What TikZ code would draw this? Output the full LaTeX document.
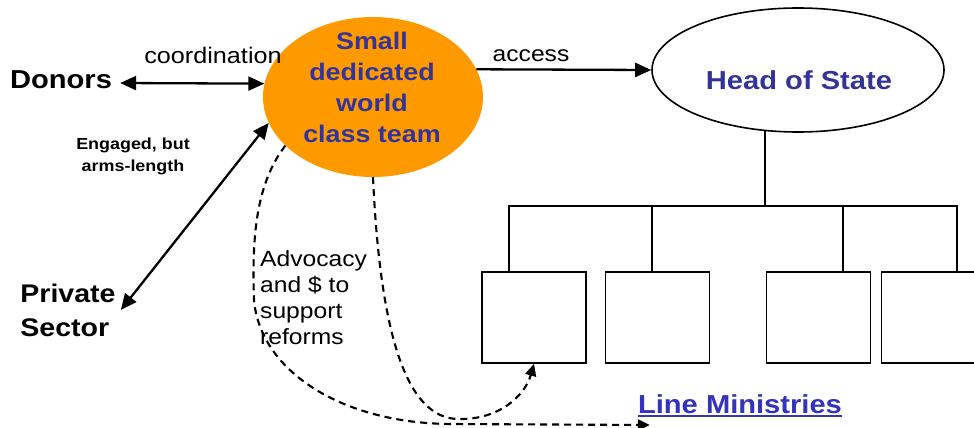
\documentclass[tikz,border=0pt]{standalone}
\usepackage{fontspec}
\setmainfont{Liberation Sans}[FakeStretch=1.12]
\usetikzlibrary{shapes.geometric,arrows.meta}
\definecolor{teamorange}{HTML}{FF9900}
\definecolor{navytext}{HTML}{333399}
\definecolor{linkblue}{HTML}{3333BB}
\newcommand\ulinetext[1]{\setbox0\hbox{#1}\rlap{\rule[-3.5pt]{\wd0}{2pt}}\box0}
\begin{document}
\begin{tikzpicture}[x=1pt,y=-1pt,
  >={Triangle[length=16pt,width=14pt]},
  solidarrow/.style={line width=2.3pt},
  dasharrow/.style={line width=2.1pt, dash pattern=on 7pt off 5pt, -{Triangle[length=12pt,width=11pt]}},
  treeline/.style={line width=1.7pt},
  ministry/.style={draw, line width=1.7pt, minimum width=104pt, minimum height=91pt, inner sep=0pt},
  lbl/.style={inner sep=2pt}]
\useasboundingbox (0,0) rectangle (974,428);

% main ellipses
\node[ellipse, fill=teamorange, minimum width=220pt, minimum height=160pt, inner sep=0pt] (team) at (373,97) {};
\node[lbl, align=center, text=navytext, font=\fontsize{24}{31}\selectfont\bfseries] (teamtxt) at (372,87) {Small\\dedicated\\world\\class team};
\node[ellipse, draw, line width=1.6pt, minimum width=292pt, minimum height=124pt, inner sep=0pt] (hos) at (798,70) {};
\node[lbl, text=navytext, font=\fontsize{26}{30}\selectfont\bfseries] (hostxt) at (799,80.5) {Head of State};

% side labels
\node[lbl, font=\fontsize{26}{30}\selectfont\bfseries] (donors) at (61,80) {Donors};
\node[lbl, align=left, font=\fontsize{25.5}{34}\selectfont\bfseries] (private) at (68,310) {Private\\Sector};
\node[lbl, font=\fontsize{22.5}{26}\selectfont] (coord) at (213,55.5) {coordination};
\node[lbl, font=\fontsize{22}{26}\selectfont] (access) at (531,55.5) {access};
\node[lbl, align=center, font=\fontsize{16}{22}\selectfont\bfseries] (engaged) at (133,156) {Engaged, but\\arms-length};
\node[lbl, align=left, anchor=west, font=\fontsize{22}{26}\selectfont] (advocacy) at (258,298) {Advocacy\\and \$ to\\support\\reforms};

% ministries
\node[ministry] (m1) at (534,317.5) {};
\node[ministry] (m2) at (657.5,317.5) {};
\node[ministry] (m3) at (818.5,317.5) {};
\node[ministry] (m4) at (933.5,317.5) {};
\node[lbl, anchor=base, text=linkblue, font=\fontsize{26}{30}\selectfont\bfseries] (lm) at (740,413) {\ulinetext{Line Ministries}};

% tree
\coordinate (trunk) at (765,206);
\coordinate (barL) at (509,206);
\coordinate (barR) at (957,206);
\coordinate (drop2) at (652,206);
\coordinate (drop3) at (843,206);
\draw[treeline] ([yshift=2pt]trunk |- hos.south) -- (trunk);
\draw[treeline] (barL |- m1.north) -- (barL) -- (barR) -- (barR |- m4.north);
\draw[treeline] (drop2) -- (drop2 |- m2.north);
\draw[treeline] (drop3) -- (drop3 |- m3.north);

% solid arrows
\draw[solidarrow, <->] ([xshift=6pt,yshift=-3pt]donors.east) -- (team.173);
\draw[solidarrow, <->] ([xshift=3pt]private.east) -- (team.194);
\draw[solidarrow, ->] (team.15) -- (hos.west);

% dashed arrows
\draw[dasharrow] (team.209) .. controls (255,185) and (252,240) .. (254,300)
  .. controls (260,370) and (340,423) .. (450,424) -- ([xshift=14pt,yshift=-12pt]lm.base west);
\draw[dasharrow] (team.south) .. controls (380,330) and (405,418) .. (458,419)
  .. controls (500,420) and (525,395) .. (m1.south);
\end{tikzpicture}
\end{document}
